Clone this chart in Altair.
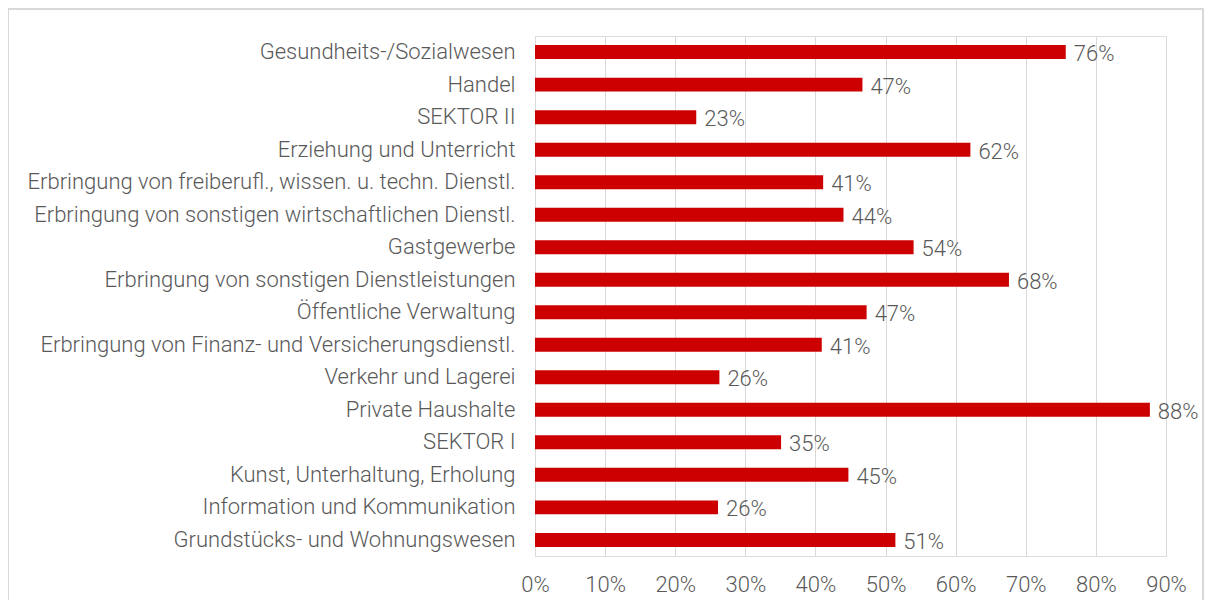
import altair as alt
import pandas as pd

categories = [
    "Gesundheits-/Sozialwesen",
    "Handel",
    "SEKTOR II",
    "Erziehung und Unterricht",
    "Erbringung von freiberufl., wissen. u. techn. Dienstl.",
    "Erbringung von sonstigen wirtschaftlichen Dienstl.",
    "Gastgewerbe",
    "Erbringung von sonstigen Dienstleistungen",
    "Öffentliche Verwaltung",
    "Erbringung von Finanz- und Versicherungsdienstl.",
    "Verkehr und Lagerei",
    "Private Haushalte",
    "SEKTOR I",
    "Kunst, Unterhaltung, Erholung",
    "Information und Kommunikation",
    "Grundstücks- und Wohnungswesen",
]
values = [0.757, 0.467, 0.230, 0.621, 0.411, 0.440, 0.540, 0.676,
          0.473, 0.409, 0.263, 0.877, 0.351, 0.447, 0.261, 0.514]
tick_values = [0, 0.1, 0.2, 0.3, 0.4, 0.5, 0.6, 0.7, 0.8, 0.9]

df = pd.DataFrame({"cat": categories, "val": values})

FONT = "Roboto"
WEIGHT = 300
GRAY = "#595959"
FS = 22
W, H = 631, 520

x = alt.X("val:Q", scale=alt.Scale(domain=[0, 0.9], nice=False),
          axis=alt.Axis(values=tick_values, format=".0%", grid=True, gridColor="#d9d9d9",
                        domain=False, ticks=False, labelFont=FONT, labelFontSize=FS,
                        labelFontWeight=WEIGHT, labelFlush=False,
                        labelColor=GRAY, labelPadding=18, title=None))
y = alt.Y("cat:N", sort=categories,
          scale=alt.Scale(paddingInner=0.57, paddingOuter=0.28),
          axis=alt.Axis(domain=False, ticks=False, labelFont=FONT, labelFontSize=FS,
                        labelFontWeight=WEIGHT,
                        labelColor=GRAY, labelPadding=20, title=None, labelLimit=600))

bars = alt.Chart(df).mark_bar(color="#CC0000").encode(x=x, y=y)
labels = alt.Chart(df).mark_text(align="left", baseline="middle", dx=8, dy=2,
                                 font=FONT, fontSize=FS, fontWeight=WEIGHT, color=GRAY).encode(
    x="val:Q", y=alt.Y("cat:N", sort=categories), text=alt.Text("val:Q", format=".0%"))
frame = alt.Chart(df).mark_rect(fill=None, stroke="#d9d9d9", strokeWidth=1.5).encode(
    x=alt.value(-527), x2=alt.value(W + 37), y=alt.value(-27), y2=alt.value(H + 45))

chart = alt.layer(frame, bars, labels).properties(
    width=W, height=H,
    autosize=alt.AutoSizeParams(type="none"),
    padding={"left": 527, "top": 28, "right": 38, "bottom": 44},
).configure_view(stroke=None).configure(background="white")

chart.save("out.html", embed_options={"renderer": "svg", "actions": False})
